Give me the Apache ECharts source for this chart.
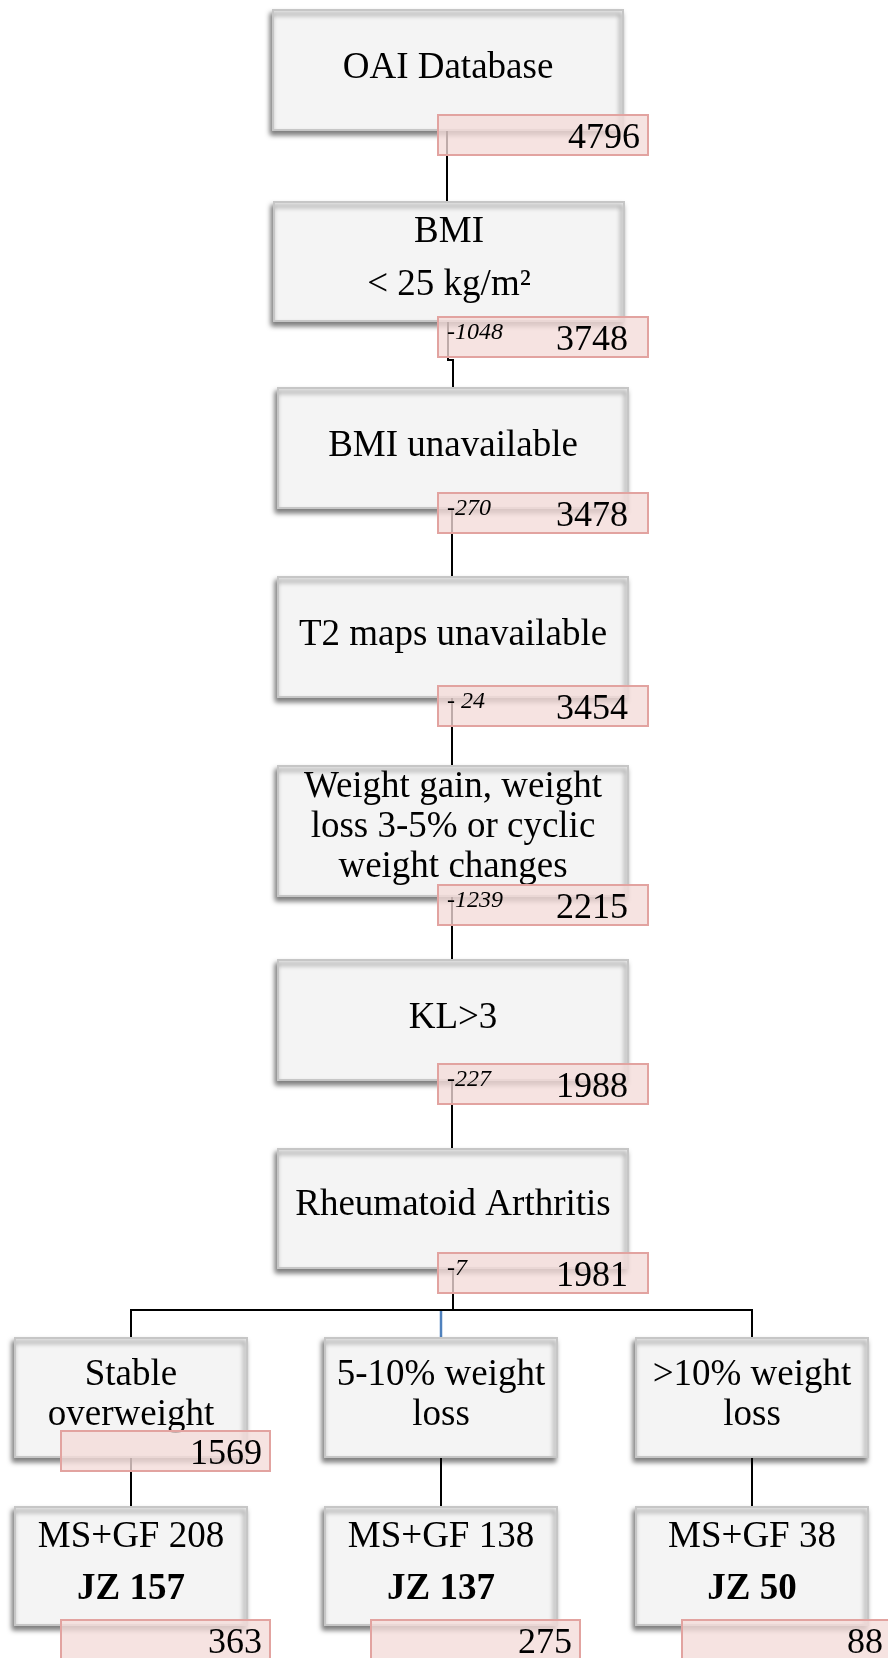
<!DOCTYPE html>
<html>
<head>
<meta charset="utf-8">
<script src="https://cdn.jsdelivr.net/npm/echarts@6/dist/echarts.min.js"></script>
<style>
html, body { margin: 0; padding: 0; background: #fff; }
#chart { width: 888px; height: 1658px; }
</style>
</head>
<body>
<div id="chart"></div>
<script>
// main column: selection steps
const steps = ['OAI Database', 'BMI\n< 25 kg/m²', 'BMI unavailable', 'T2 maps unavailable',
  'Weight gain, weight\nloss 3-5% or cyclic\nweight changes', 'KL>3', 'Rheumatoid Arthritis']
const remaining = [4796, 3748, 3478, 3454, 2215, 1988, 1981]
const excluded = ['', '-1048', '-270', '- 24', '-1239', '-227', '-7']

// split into three groups
const groups = ['Stable\noverweight', '5-10% weight\nloss', '>10% weight\nloss']
const groupCounts = [1569, null, null]
const msgf = [208, 138, 38]
const jz = [157, 137, 50]
const totals = [363, 275, 88]

// layout (pixels of the 888x1658 page)
const mainLeft = [273, 274, 278, 278, 278, 278, 278]
const mainTop = [10, 202, 388, 577, 766, 960, 1149]
const mainH = [120, 119, 120, 120, 130, 120, 119]
const mainW = 350
const mainBase = [[67], [39, 92], [67], [67], [30, 70, 110], [67], [65]]
const redTop = [115, 317, 493, 686, 885, 1064, 1253]
const redLeft = 438, redW = 210, redH = 40
const groupLeft = [15, 325, 636]
const boxW = 232
const groupTop = 1338, groupH = 119
const resTop = 1507, resH = 118
const splitY = 1310

const FONT = '"Liberation Serif", "Times New Roman", serif'
const SIZE = 37

let boxes = []
let reds = []
steps.forEach((s, i) => {
    let lines = s.split('\n').map((t, k) => ({ text: t, base: mainBase[i][k], size: SIZE }))
    boxes.push({ x: mainLeft[i], y: mainTop[i], w: mainW, h: mainH[i], lines: lines })
    reds.push({ x: redLeft, y: redTop[i], w: redW, h: redH, num: remaining[i], exc: excluded[i], pad: excluded[i] ? 20 : 8 })
})
groups.forEach((g, i) => {
    let lines = g.split('\n').map((t, k) => ({ text: t, base: [46, 86][k], size: SIZE }))
    boxes.push({ x: groupLeft[i], y: groupTop, w: boxW, h: groupH, lines: lines })
    if (groupCounts[i] != null) {
        reds.push({ x: groupLeft[i] + 46, y: 1431, w: 209, h: redH, num: groupCounts[i], exc: '', pad: 8 })
    }
    boxes.push({
        x: groupLeft[i], y: resTop, w: boxW, h: resH, lines: [
            { text: 'MS+GF ' + msgf[i], base: 39, size: SIZE },
            { text: 'JZ ' + jz[i], base: 91, size: SIZE, bold: true }
        ]
    })
    reds.push({ x: groupLeft[i] + 46, y: 1620, w: 209, h: redH, num: totals[i], exc: '', pad: 8 })
})

// connectors, derived from the boxes
let links = []
for (let i = 0; i < steps.length - 1; i++) {
    let x0 = Math.round(mainLeft[i] + mainW / 2) - 1
    let x1 = Math.round(mainLeft[i + 1] + mainW / 2)
    let y0 = mainTop[i] + mainH[i], y1 = mainTop[i + 1]
    if (x1 - x0 > 2) {
        let yj = redTop[i] + redH + 3
        links.push({ pts: [[x0, y0], [x0, yj], [x1, yj], [x1, y1]], color: '#000' })
    } else {
        links.push({ pts: [[x0, y0], [x0, y1]], color: '#000' })
    }
}
let last = steps.length - 1
let centers = groupLeft.map(l => l + boxW / 2)
links.push({ pts: [[453, mainTop[last] + mainH[last]], [453, splitY]], color: '#000' })
links.push({ pts: [[centers[0], groupTop], [centers[0], splitY], [centers[2], splitY], [centers[2], groupTop]], color: '#000' })
links.push({ pts: [[centers[1], splitY + 1], [centers[1], groupTop]], color: '#4f81bd' })
centers.forEach(c => links.push({ pts: [[c, groupTop + groupH], [c, resTop]], color: '#000' }))

function rectOf(api, b) {
    let p0 = api.coord([b.x, b.y])
    let p1 = api.coord([b.x + b.w, b.y + b.h])
    return { x: p0[0], y: p0[1], width: p1[0] - p0[0], height: p1[1] - p0[1] }
}

let chart = echarts.init(document.getElementById('chart'))
chart.setOption({
    animation: false,
    backgroundColor: '#fff',
    grid: { left: 0, right: 0, top: 0, bottom: 0 },
    xAxis: { type: 'value', min: 0, max: 888, show: false },
    yAxis: { type: 'value', min: 0, max: 1658, inverse: true, show: false },
    series: [
        {
            type: 'custom',
            z: 1,
            data: links.map((l, i) => [l.pts[0][0], l.pts[0][1], i]),
            renderItem: function (params, api) {
                let l = links[params.dataIndex]
                return {
                    type: 'polyline',
                    shape: { points: l.pts.map(p => api.coord(p)) },
                    style: { stroke: l.color, lineWidth: l.color === '#000' ? 2 : 2.5, fill: null }
                }
            }
        },
        {
            type: 'custom',
            z: 2,
            data: boxes.map((b, i) => [b.x, b.y, i]),
            renderItem: function (params, api) {
                let b = boxes[params.dataIndex]
                let children = [{
                    type: 'rect',
                    shape: rectOf(api, b),
                    style: {
                        fill: '#f4f4f4', stroke: '#c6c6c6', lineWidth: 2,
                        shadowBlur: 5, shadowOffsetX: -2, shadowOffsetY: 4, shadowColor: 'rgba(0,0,0,0.5)'
                    }
                }]
                b.lines.forEach(l => {
                    let c = api.coord([b.x + b.w / 2, b.y + l.base])
                    children.push({
                        type: 'text',
                        x: c[0], y: c[1] - l.size * 0.24,
                        style: {
                            text: l.text, fill: '#000', align: 'center', verticalAlign: 'middle',
                            font: (l.bold ? 'bold ' : '') + l.size + 'px ' + FONT
                        }
                    })
                })
                return { type: 'group', children: children }
            }
        },
        {
            type: 'custom',
            z: 3,
            data: reds.map((r, i) => [r.x, r.y, i]),
            renderItem: function (params, api) {
                let r = reds[params.dataIndex]
                let rc = rectOf(api, r)
                let children = [{
                    type: 'rect',
                    shape: rc,
                    style: { fill: 'rgba(243,219,217,0.78)', stroke: '#e2a3a0', lineWidth: 2 }
                }]
                children.push({
                    type: 'text',
                    x: rc.x + rc.width - r.pad, y: rc.y + 36 - 12,
                    style: { text: String(r.num), fill: '#000', align: 'right', verticalAlign: 'middle', font: '36px ' + FONT }
                })
                if (r.exc) {
                    children.push({
                        type: 'text',
                        x: rc.x + 9, y: rc.y + 24 - 8,
                        style: { text: r.exc, fill: '#000', align: 'left', verticalAlign: 'middle', font: 'italic 24px ' + FONT }
                    })
                }
                return { type: 'group', children: children }
            }
        }
    ]
})
</script>
</body>
</html>
